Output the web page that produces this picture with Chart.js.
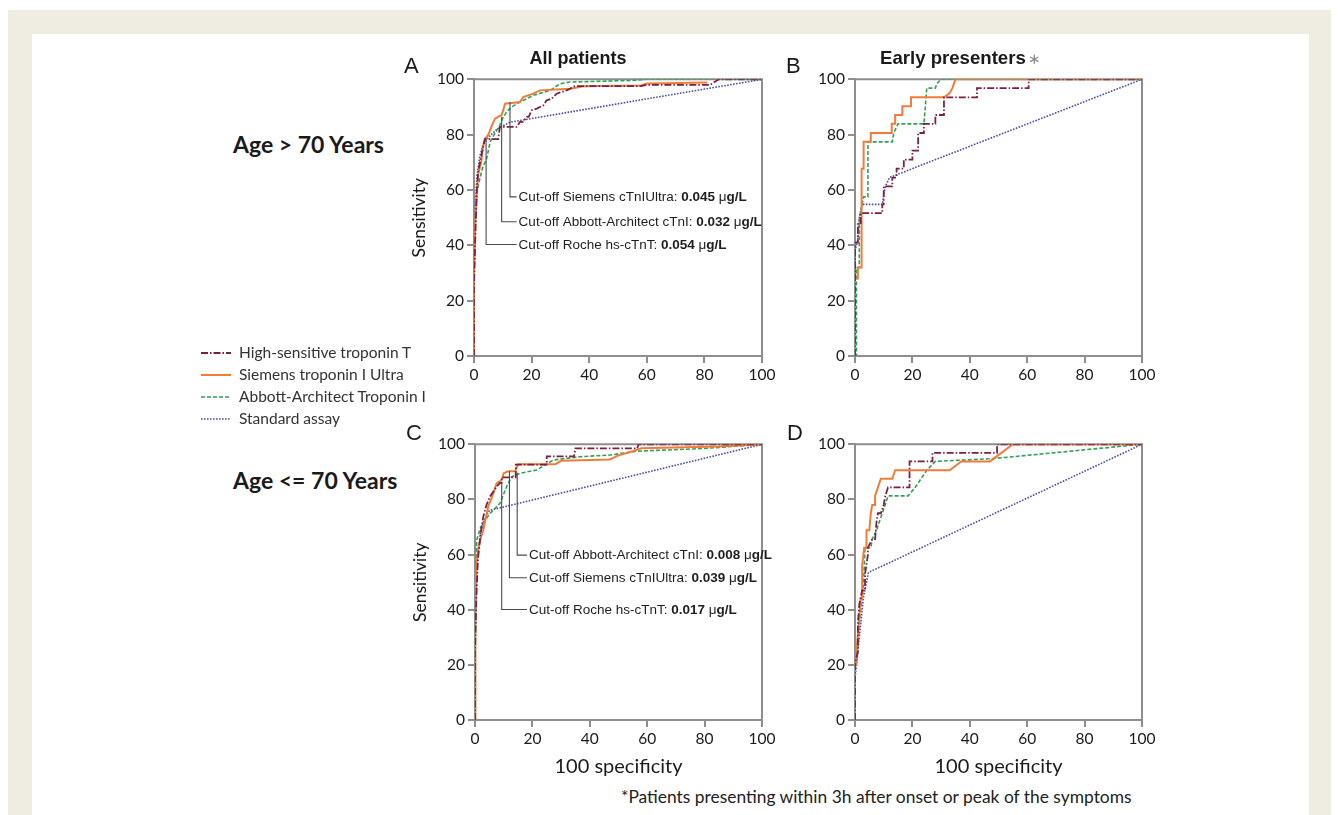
<!DOCTYPE html>
<html><head><meta charset="utf-8">
<script src="https://cdn.jsdelivr.net/npm/chart.js@4.4.0/dist/chart.umd.min.js"></script>
<style>
html,body{margin:0;padding:0;width:1339px;height:815px;overflow:hidden;background:#fff;}
#beige{position:absolute;left:8px;top:10px;width:1323px;height:815px;background:#efece2;}
#panel{position:absolute;left:32px;top:34px;width:1277px;height:800px;background:#fff;}
.t{position:absolute;white-space:nowrap;color:#1a1a1a;transform:translateY(-50%);line-height:1;}
.letter{font-family:"Liberation Sans",Arial,sans-serif;font-size:22px;}
.ttl{font-family:"Liberation Sans",Arial,sans-serif;font-weight:bold;font-size:18px;}
.age{font-family:Lato,sans-serif;font-weight:bold;font-size:23px;}
.leg{font-family:Lato,sans-serif;font-size:15.5px;color:#333;}
.foot{font-family:Lato,sans-serif;font-size:17.4px;color:#222;}
canvas{position:absolute;}
svg{position:absolute;}
</style></head><body>
<div id="beige"></div><div id="panel"></div>
<script>
// ---------- data ----------
const xTicks = [0, 20, 40, 60, 80, 100];
const yTicks = [0, 20, 40, 60, 80, 100];
const seriesNames = ['High-sensitive troponin T', 'Siemens troponin I Ultra', 'Abbott-Architect Troponin I', 'Standard assay'];
const rowLabels = ['Age > 70 Years', 'Age <= 70 Years'];
const colTitles = ['All patients', 'Early presenters'];
const footnote = '*Patients presenting within 3h after onset or peak of the symptoms';

// Panel A: Age > 70, all patients  ([100-specificity, sensitivity])
const A_hsTnT = [[0,0],[0,25],[0.5,45],[1,60],[1.5,67],[2.5,72],[3.3,76.3],[3.8,78.4],[8.4,78.4],[9,82.8],[14.8,82.8],[16,84.6],[17,84.6],[18.3,86.4],[19,86.4],[20,88.8],[21.8,89.4],[24.1,90.6],[25.2,92.4],[27,93],[28.7,94.8],[32.2,96],[35,97.5],[58,97.5],[60,98],[82,98],[85,100],[100,100]];
const A_siemens = [[0,0],[0,30],[0.5,50],[1,60],[1.5,66],[2.5,70],[3,75],[3.8,78.5],[5,80],[5.6,81.6],[6.5,84],[7.3,85.8],[8.5,86.5],[9.6,87],[10.8,91.2],[16,91.8],[17.1,93.6],[20.6,94.8],[22.9,96],[33.3,96.6],[38,97.5],[58,97.8],[60,98.5],[81,98.8]];
const A_abbott = [[0,0],[0,30],[0.5,50],[1,59],[2,64],[3,68],[4.4,71.4],[5.6,77.3],[7,80],[9,83.4],[10,86],[11.3,88.2],[13,90],[16,91.8],[20.6,94.2],[26.4,96],[29.9,98.4],[33.3,99],[45,99.3],[55,99.6],[60,100],[100,100]];
const A_standard = [[0,0],[0,30],[0.5,55],[1,65],[2,72],[3,76],[5,79],[8,82],[12.5,84.5],[100,100]];

// Panel B: Age > 70, early presenters
const B_hsTnT = [[0,0],[0,41],[1,41],[1,48],[2,48],[2,51.6],[9.5,51.6],[9.5,54.8],[10,54.8],[10,61.3],[13,61.3],[13,64.5],[14.5,64.5],[14.5,67.7],[17,67.7],[17,71],[20,71],[20,74.2],[22,74.2],[22,80.6],[24,80.6],[24,83.9],[28,83.9],[28,87.1],[31,87.1],[31,93.5],[42.5,93.5],[42.5,96.8],[60.5,96.8],[60.5,100],[100,100]];
const B_siemens = [[0,0],[0,28],[1,28],[1,32],[2.3,32],[2.3,67.7],[3,67.7],[3,77.4],[5.5,77.4],[5.5,80.6],[12.8,80.6],[12.8,83.9],[14,83.9],[14,87.1],[16.5,87.1],[16.5,90.3],[19.5,90.3],[19.5,93.5],[31,93.5],[33,95],[34,97],[35,100],[100,100]];
const B_abbott = [[0,0],[0.5,0],[0.5,32],[1.5,32],[1.5,50],[2.5,55],[3,57.5],[4.5,57.5],[4.5,77.4],[13,77.4],[13.5,80.6],[15,83.9],[24,83.9],[24.5,90],[25,96.8],[28,96.8],[28.5,98.4],[30,100],[100,100]];
const B_standard = [[0,0],[0,38],[1,42],[1.5,50],[2.5,54.8],[9.5,54.8],[10.5,61],[12,64.5],[100,100]];

// Panel C: Age <= 70, all patients
const C_hsTnT = [[0,0],[0,25],[0.5,45],[1,58],[2,68],[2.9,73.8],[4,78],[5.2,81],[7.5,84.6],[8.7,86],[9.3,86],[9.3,88],[14.2,88],[14.2,92.6],[25,92.6],[25,95.6],[34.5,95.6],[35,98.5],[56.5,98.5],[57,100],[100,100]];
const C_siemens = [[0,0],[0,30],[0.3,50],[1,61.7],[2,66],[2.9,68.9],[4.6,77.4],[6.4,82.2],[7.5,85.8],[9.3,87],[10,89.5],[11.5,90.2],[14,90.2],[15,92.8],[28,92.8],[30,94],[47,94.5],[50,96],[55,97.5],[58,98.6],[85,99.2],[100,100]];
const C_abbott = [[0,0],[0,25],[0.3,45],[0.6,65.3],[2,70],[5.2,74.9],[8.7,78.6],[11,84.6],[12.7,88.2],[15.7,89.5],[21.5,90.7],[27.3,94.3],[36.6,95.5],[47,96.1],[56.4,97.5],[80,98.5],[100,100]];
const C_standard = [[0,0],[0,30],[0.5,50],[1,60],[2,68],[3,72],[5,76],[100,100]];

// Panel D: Age <= 70, early presenters
const D_hsTnT = [[0,0],[0,20],[1,25],[1,35],[1.5,42],[2.5,47],[3.5,47],[3.5,53],[4.5,60],[4.5,62.5],[6,65.6],[7,65.6],[7.5,71.9],[8,75],[9,75],[10,78],[10.5,81],[11.5,84.4],[19,84.4],[19,93.8],[27,93.8],[27,96.9],[49.5,96.9],[49.5,100],[100,100]];
const D_siemens = [[0,0],[0,20],[0.5,20],[0.5,25],[1,31],[1.5,37.5],[2,44],[2.5,44],[2.5,56],[3.2,62.5],[4,62.5],[4,68.8],[5,68.8],[5.5,75],[6,78],[7,78],[7,81.3],[8,84.4],[9,87.5],[13,87.5],[14,90.6],[33,90.6],[37,93.8],[47,93.8],[51,96.9],[55,100],[100,100]];
const D_abbott = [[0,0],[0,18],[1,25],[1.5,35],[2,40],[2.5,45],[3,50],[3.5,62.5],[5.5,62.5],[6,65.6],[7.5,68.8],[8.5,72],[9.5,75],[10.5,78],[11.5,81.3],[18.5,81.3],[21,84.4],[23,87.5],[25,90.6],[28,93.8],[48,94.8],[55,95.5],[100,100]];
const D_standard = [[0,0],[0,15],[1,25],[2,35],[3,45],[4,50],[4.7,53.5],[100,100]];

// Cut-off annotations
const A_cutText = ['Cut-off Siemens cTnIUltra: ', 'Cut-off Abbott-Architect cTnI: ', 'Cut-off Roche hs-cTnT: '];
const A_cutValue = ['0.045', '0.032', '0.054'];
const A_cutX = [12.5, 9.6, 4.2];
const A_cutTop = [91.8, 86.4, 78];
const A_cutBottom = [57.5, 48.5, 40.3];
const A_cutEnd = 14.8;
const C_cutText = ['Cut-off Abbott-Architect cTnI: ', 'Cut-off Siemens cTnIUltra: ', 'Cut-off Roche hs-cTnT: '];
const C_cutValue = ['0.008', '0.039', '0.017'];
const C_cutX = [14.7, 12, 9.3];
const C_cutTop = [89.8, 90.2, 86];
const C_cutBottom = [59.8, 51.6, 40.1];
const C_cutEnd = 18.1;
const unit = ['\u03bc', 'g/L'];

// ---------- styles ----------
const GRAY = '#8e8e8e';
const sColor = ['#7a2142', '#f07c38', '#33a05a', '#4b4bab'];
const sDash = [[7,2,1.5,2], [], [4,2], [1.6,1.4]];
const sWidth = [1.8, 2, 1.6, 1.6];
const sOrder = [1, 2, 3, 4];
const YW = 66, PADR = 18, PADT = 12;

const framePlugin = {
  id: 'frame',
  beforeDatasetsDraw(chart) {
    const {ctx, chartArea: a} = chart;
    ctx.save(); ctx.strokeStyle = GRAY; ctx.lineWidth = 2;
    ctx.beginPath(); ctx.moveTo(a.left, a.top); ctx.lineTo(a.right, a.top); ctx.lineTo(a.right, a.bottom); ctx.stroke();
    ctx.restore();
  }
};
const cutPlugin = {
  id: 'cutText',
  afterDatasetsDraw(chart, args, o) {
    if (!o.items || !o.items.length) return;
    const ctx = chart.ctx, xs = chart.scales.x, ys = chart.scales.y;
    ctx.save(); ctx.textBaseline = 'middle'; ctx.fillStyle = '#1e1e1e';
    o.items.forEach(it => {
      let px = xs.getPixelForValue(it.tx) + 2, py = ys.getPixelForValue(it.ty) + 0.5;
      it.parts.forEach(([txt, bold]) => {
        ctx.font = (bold ? 'bold ' : '') + '13.5px "Liberation Sans", Arial, sans-serif';
        ctx.fillText(txt, px, py); px += ctx.measureText(txt).width;
      });
    });
    ctx.restore();
  }
};

function makePanel(cfg) {
  const xH = cfg.xTitle ? 60 : 40;
  const w = YW + cfg.plotW + PADR, h = PADT + cfg.plotH + xH;
  const c = document.createElement('canvas');
  c.width = w; c.height = h;
  c.style.left = (cfg.plotLeft - YW) + 'px'; c.style.top = (cfg.plotTop - PADT) + 'px';
  c.style.width = w + 'px'; c.style.height = h + 'px';
  document.body.appendChild(c);
  const datasets = cfg.series.map((s, i) => ({
    label: seriesNames[i],
    data: s.map(p => ({x: p[0], y: p[1]})),
    borderColor: sColor[i], borderDash: sDash[i], borderWidth: sWidth[i],
    showLine: true, pointRadius: 0, tension: 0, fill: false, order: sOrder[i]
  }));
  const items = [];
  if (cfg.cut) {
    cfg.cut.x.forEach((x, k) => {
      datasets.push({
        data: [{x, y: cfg.cut.top[k]}, {x, y: cfg.cut.bottom[k]}, {x: cfg.cut.end, y: cfg.cut.bottom[k]}],
        borderColor: '#4a4a4a', borderWidth: 1.1, showLine: true, pointRadius: 0, order: 0
      });
      items.push({tx: cfg.cut.end, ty: cfg.cut.bottom[k],
        parts: [[cfg.cut.text[k], false], [cfg.cut.value[k], true], [' ' + unit[0], false], [unit[1], true]]});
    });
  }
  const tickFont = {family: 'Lato', size: 15.5};
  new Chart(c, {
    type: 'scatter',
    data: {datasets},
    options: {
      responsive: false, animation: false, events: [],
      layout: {padding: {top: PADT, right: PADR, left: 0, bottom: 0}},
      plugins: {legend: {display: false}, tooltip: {enabled: false}, cutText: {items}},
      scales: {
        x: {
          type: 'linear', min: 0, max: 100,
          afterBuildTicks: s => { s.ticks = xTicks.map(v => ({value: v})); },
          afterFit: s => { s.height = xH; },
          ticks: {font: tickFont, color: '#1a1a1a', padding: 3, maxRotation: 0, autoSkip: false},
          grid: {display: true, drawOnChartArea: false, drawTicks: true, tickLength: 7, color: GRAY, lineWidth: 2},
          border: {display: true, color: GRAY, width: 2},
          title: {display: !!cfg.xTitle, text: '100 specificity', font: {family: 'Lato', size: 20}, color: '#1a1a1a', padding: {top: 0, bottom: 1}}
        },
        y: {
          type: 'linear', min: 0, max: 100,
          afterBuildTicks: s => { s.ticks = yTicks.map(v => ({value: v})); },
          afterFit: s => { s.width = YW; },
          ticks: {font: tickFont, color: '#1a1a1a', padding: 3},
          grid: {display: true, drawOnChartArea: false, drawTicks: true, tickLength: 7, color: GRAY, lineWidth: 2},
          border: {display: true, color: GRAY, width: 2},
          title: {display: !!cfg.yTitle, text: 'Sensitivity', font: {family: 'Lato', size: 17.5}, color: '#1a1a1a', padding: {top: 1, bottom: 0}}
        }
      }
    },
    plugins: [framePlugin, cutPlugin]
  });
}

makePanel({plotLeft: 474, plotTop: 79, plotW: 288, plotH: 277, yTitle: true, xTitle: false,
  series: [A_hsTnT, A_siemens, A_abbott, A_standard],
  cut: {x: A_cutX, top: A_cutTop, bottom: A_cutBottom, end: A_cutEnd, text: A_cutText, value: A_cutValue}});
makePanel({plotLeft: 855, plotTop: 79, plotW: 287, plotH: 277, yTitle: false, xTitle: false,
  series: [B_hsTnT, B_siemens, B_abbott, B_standard]});
makePanel({plotLeft: 475, plotTop: 444, plotW: 287, plotH: 276, yTitle: true, xTitle: true,
  series: [C_hsTnT, C_siemens, C_abbott, C_standard],
  cut: {x: C_cutX, top: C_cutTop, bottom: C_cutBottom, end: C_cutEnd, text: C_cutText, value: C_cutValue}});
makePanel({plotLeft: 855, plotTop: 444, plotW: 287, plotH: 276, yTitle: false, xTitle: true,
  series: [D_hsTnT, D_siemens, D_abbott, D_standard]});

// ---------- text ----------
function addText(txt, cls, left, cy, extra) {
  const d = document.createElement('div');
  d.className = 't ' + cls; d.style.left = left + 'px'; d.style.top = cy + 'px';
  d.textContent = txt;
  if (extra) extra(d);
  document.body.appendChild(d);
  return d;
}
addText('A', 'letter', 404, 66);
addText('B', 'letter', 786, 66);
addText('C', 'letter', 406, 433);
addText('D', 'letter', 787, 433);
const t1 = addText(colTitles[0], 'ttl', 578, 58); t1.style.transform = 'translate(-50%,-50%)';
addText(colTitles[1], 'ttl', 880, 58, d => {
  d.style.fontSize = '18.6px';
  const s = document.createElement('span'); s.textContent = '\u2217';
  s.style.cssText = 'font-size:15px;color:#8a8a8a;font-weight:normal;margin-left:2px;';
  d.appendChild(s);
});
addText(rowLabels[0], 'age', 233, 144);
addText(rowLabels[1], 'age', 233, 480);
addText(footnote, 'foot', 621, 797);

const legY = [353, 375, 397, 419];
seriesNames.forEach((n, i) => {
  const svg = document.createElementNS('http://www.w3.org/2000/svg', 'svg');
  svg.setAttribute('width', '34'); svg.setAttribute('height', '8');
  svg.style.left = '199px'; svg.style.top = (legY[i] - 4) + 'px';
  const ln = document.createElementNS('http://www.w3.org/2000/svg', 'line');
  ln.setAttribute('x1', '2'); ln.setAttribute('x2', '32'); ln.setAttribute('y1', '4'); ln.setAttribute('y2', '4');
  ln.setAttribute('stroke', sColor[i]); ln.setAttribute('stroke-width', sWidth[i]);
  if (sDash[i].length) ln.setAttribute('stroke-dasharray', sDash[i].join(' '));
  svg.appendChild(ln); document.body.appendChild(svg);
  addText(n, 'leg', 239, legY[i]);
});
</script>
</body></html>
